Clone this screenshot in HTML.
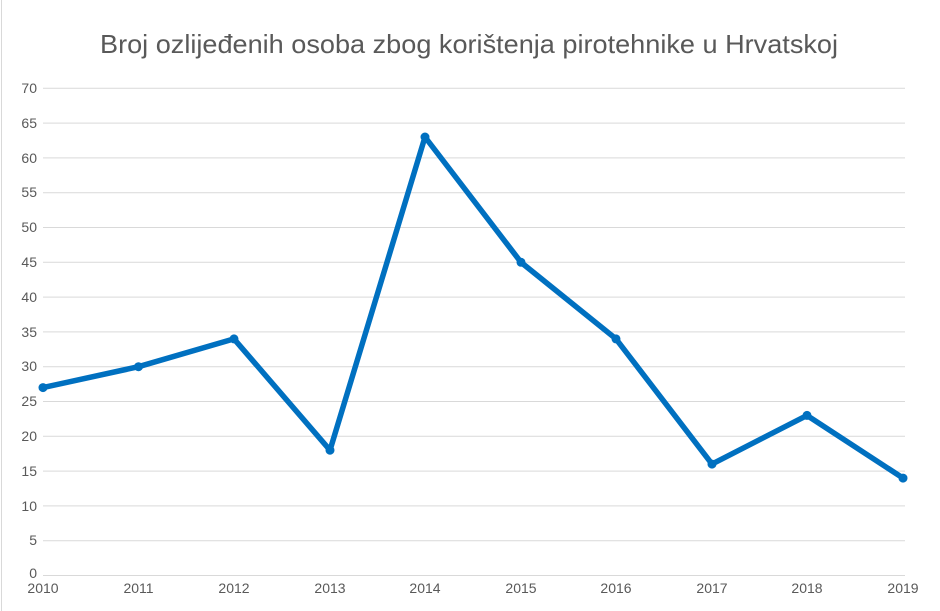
<!DOCTYPE html>
<html><head><style>
html,body{margin:0;padding:0;background:#fff;}
svg{display:block;}
text{font-family:"Liberation Sans","DejaVu Sans",sans-serif;fill:#595959;}
</style></head><body>
<svg width="940" height="611" viewBox="0 0 940 611">
<rect x="0" y="0" width="940" height="611" fill="#fff"/>
<line x1="1.5" y1="0" x2="1.5" y2="611" stroke="#d9d9d9" stroke-width="1"/>
<text x="100" y="53" font-size="26" textLength="738" lengthAdjust="spacingAndGlyphs" fill="#595959">Broj ozlijeđenih osoba zbog korištenja pirotehnike u Hrvatskoj</text>
<g stroke="#d9d9d9" stroke-width="1">
<line x1="43" x2="905" y1="88.3" y2="88.3"/>
<line x1="43" x2="905" y1="123.1" y2="123.1"/>
<line x1="43" x2="905" y1="157.9" y2="157.9"/>
<line x1="43" x2="905" y1="192.7" y2="192.7"/>
<line x1="43" x2="905" y1="227.5" y2="227.5"/>
<line x1="43" x2="905" y1="262.3" y2="262.3"/>
<line x1="43" x2="905" y1="297.1" y2="297.1"/>
<line x1="43" x2="905" y1="331.9" y2="331.9"/>
<line x1="43" x2="905" y1="366.7" y2="366.7"/>
<line x1="43" x2="905" y1="401.5" y2="401.5"/>
<line x1="43" x2="905" y1="436.3" y2="436.3"/>
<line x1="43" x2="905" y1="471.1" y2="471.1"/>
<line x1="43" x2="905" y1="505.9" y2="505.9"/>
<line x1="43" x2="905" y1="540.7" y2="540.7"/>
<line x1="43" x2="905" y1="575.5" y2="575.5"/>
</g>
<g font-size="14" text-anchor="end">
<text x="37" y="93">70</text><text x="37" y="128">65</text><text x="37" y="163">60</text>
<text x="37" y="197">55</text><text x="37" y="232">50</text><text x="37" y="267">45</text>
<text x="37" y="302">40</text><text x="37" y="337">35</text><text x="37" y="371">30</text>
<text x="37" y="406">25</text><text x="37" y="441">20</text><text x="37" y="476">15</text>
<text x="37" y="511">10</text><text x="37" y="545">5</text><text x="37" y="578">0</text>
</g>
<g font-size="14" text-anchor="middle">
<text x="43" y="593">2010</text><text x="138.5" y="593">2011</text><text x="234" y="593">2012</text>
<text x="330" y="593">2013</text><text x="425" y="593">2014</text><text x="521" y="593">2015</text>
<text x="616" y="593">2016</text><text x="712" y="593">2017</text><text x="807" y="593">2018</text>
<text x="903" y="593">2019</text>
</g>
<polyline fill="none" stroke="#0070c0" stroke-width="5.5" stroke-linejoin="round" stroke-linecap="round"
points="43,387.6 138.5,366.7 234,338.9 330,450.2 425,137 521,262.3 616,338.9 712,464.1 807,415.4 903,478.1"/>
<g fill="#0070c0">
<circle cx="43" cy="387.6" r="4.5"/><circle cx="138.5" cy="366.7" r="4.5"/><circle cx="234" cy="338.9" r="4.5"/>
<circle cx="330" cy="450.2" r="4.5"/><circle cx="425" cy="137" r="4.5"/><circle cx="521" cy="262.3" r="4.5"/>
<circle cx="616" cy="338.9" r="4.5"/><circle cx="712" cy="464.1" r="4.5"/><circle cx="807" cy="415.4" r="4.5"/>
<circle cx="903" cy="478.1" r="4.5"/>
</g>
</svg>
</body></html>
